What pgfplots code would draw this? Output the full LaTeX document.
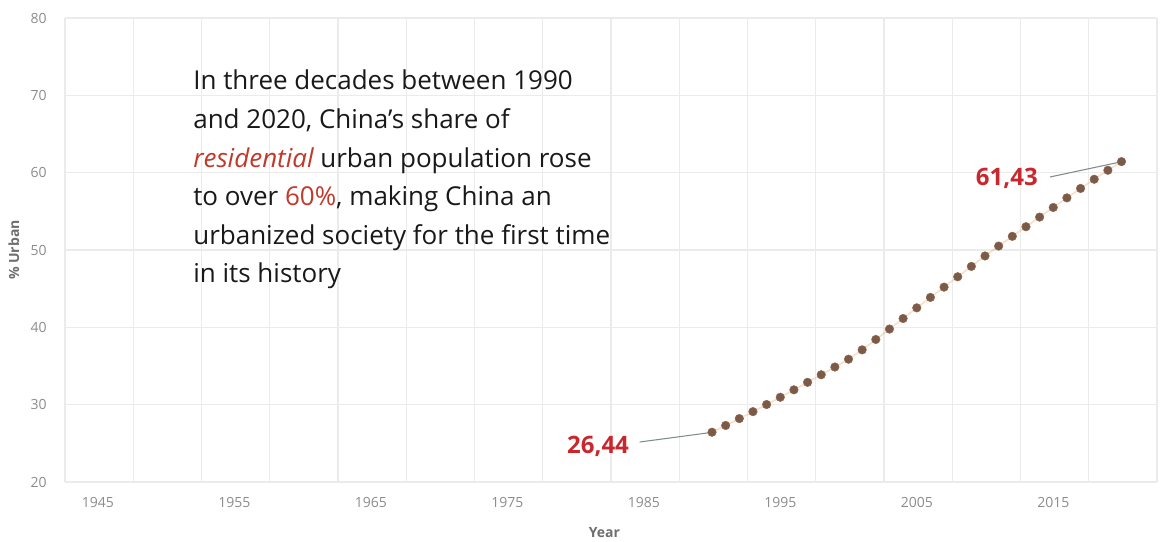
\documentclass[border=0pt]{standalone}
\usepackage{pgfplots}
\pgfplotsset{compat=1.18}
\usepackage{fontspec}
\setmainfont{Open Sans}
\definecolor{tickgray}{HTML}{8C8C8C}
\definecolor{labgray}{HTML}{6E6E6E}
\definecolor{gridgray}{HTML}{EBEBEB}
\definecolor{txtred}{HTML}{C0392B}
\definecolor{numred}{HTML}{C8282D}
\definecolor{dotcol}{HTML}{7A5A48}
\definecolor{dotorange}{HTML}{F0A060}
\definecolor{leader}{HTML}{7F8C8D}
\pgfplotstableread{
year urban
1990 26.44
1991 27.31
1992 28.20
1993 29.10
1994 30.02
1995 30.96
1996 31.92
1997 32.89
1998 33.87
1999 34.87
2000 35.88
2001 37.09
2002 38.43
2003 39.78
2004 41.14
2005 42.52
2006 43.87
2007 45.20
2008 46.54
2009 47.88
2010 49.23
2011 50.51
2012 51.77
2013 53.01
2014 54.26
2015 55.50
2016 56.74
2017 57.96
2018 59.15
2019 60.31
2020 61.43
}\urbandata
\begin{document}
\begin{tikzpicture}
\path (0pt,0pt) rectangle (874.5pt,405.75pt);
\begin{axis}[
  at={(48.75pt,44.25pt)}, anchor=south west,
  scale only axis, width=819pt, height=348pt,
  xmin=1942.6, xmax=2022.6, ymin=20, ymax=80,
  xtick={1942.6,1947.6,1952.6,1957.6,1962.6,1967.6,1972.6,1977.6,1982.6,1987.6,1992.6,1997.6,2002.6,2007.6,2012.6,2017.6,2022.6},
  xticklabels={},
  extra x ticks={1945,1955,1965,1975,1985,1995,2005,2015},
  extra x tick style={grid=none},
  ytick={20,30,...,80},
  xmajorgrids=true, ymajorgrids=true,
  grid style={draw=gridgray, line width=1pt},
  axis line style={draw=gridgray, line width=1pt},
  axis x line*=bottom, axis y line*=left,
  major tick length=0pt, minor tick length=0pt,
  tick style={draw=none},
  xticklabel style={font=\fontsize{10.5}{12}\selectfont, text=tickgray, anchor=north, inner sep=0pt, yshift=-11pt},
  yticklabel style={font=\fontsize{10.5}{12}\selectfont, text=tickgray, anchor=east, inner sep=0pt, xshift=-13.5pt},
  /pgf/number format/assume math mode=true,
  /pgf/number format/1000 sep={},
  xlabel={Year}, ylabel={\% Urban},
  every axis x label/.style={at={(axis description cs:0.494,-0.108)}, anchor=center, font=\fontsize{10.5}{12}\selectfont\bfseries, text=labgray},
  every axis y label/.style={at={(axis description cs:-0.0467,0.5)}, rotate=90, anchor=center, font=\fontsize{10.5}{12}\selectfont\bfseries, text=labgray},
  clip=false,
]
\addplot[draw=dotorange, opacity=0.35, line width=1.2pt, forget plot] table[x=year,y=urban]{\urbandata};
\addplot[only marks, mark=*, mark size=3.2pt, mark options={fill=dotcol, draw=dotcol!80!dotorange}] table[x=year,y=urban]{\urbandata};
\draw[leader, line width=0.8pt] (axis cs:1984.7,25.17) -- (axis cs:1989.7,26.35);
\draw[leader, line width=0.8pt] (axis cs:2014.76,59.44) -- (axis cs:2019.7,61.3);
\node[font=\fontsize{18}{20}\selectfont\bfseries, text=numred, anchor=center, inner sep=0pt] at (axis cs:1981.65,24.66) {26,44};
\node[font=\fontsize{18}{20}\selectfont\bfseries, text=numred, anchor=center, inner sep=0pt] at (axis cs:2011.6,59.3) {61,43};
\node[anchor=north west, align=left, inner sep=0pt, text=black!90,
  font=\fontsize{19.5}{28.95}\selectfont] at (axis cs:1951.98,73.28)
{In three decades between 1990\\
and 2020, China’s share of\\
{\color{txtred}\itshape residential} urban population rose\\
to over {\color{txtred}60\%}, making China an\\
urbanized society for the first time\\
in its history};
\end{axis}
\end{tikzpicture}
\end{document}
